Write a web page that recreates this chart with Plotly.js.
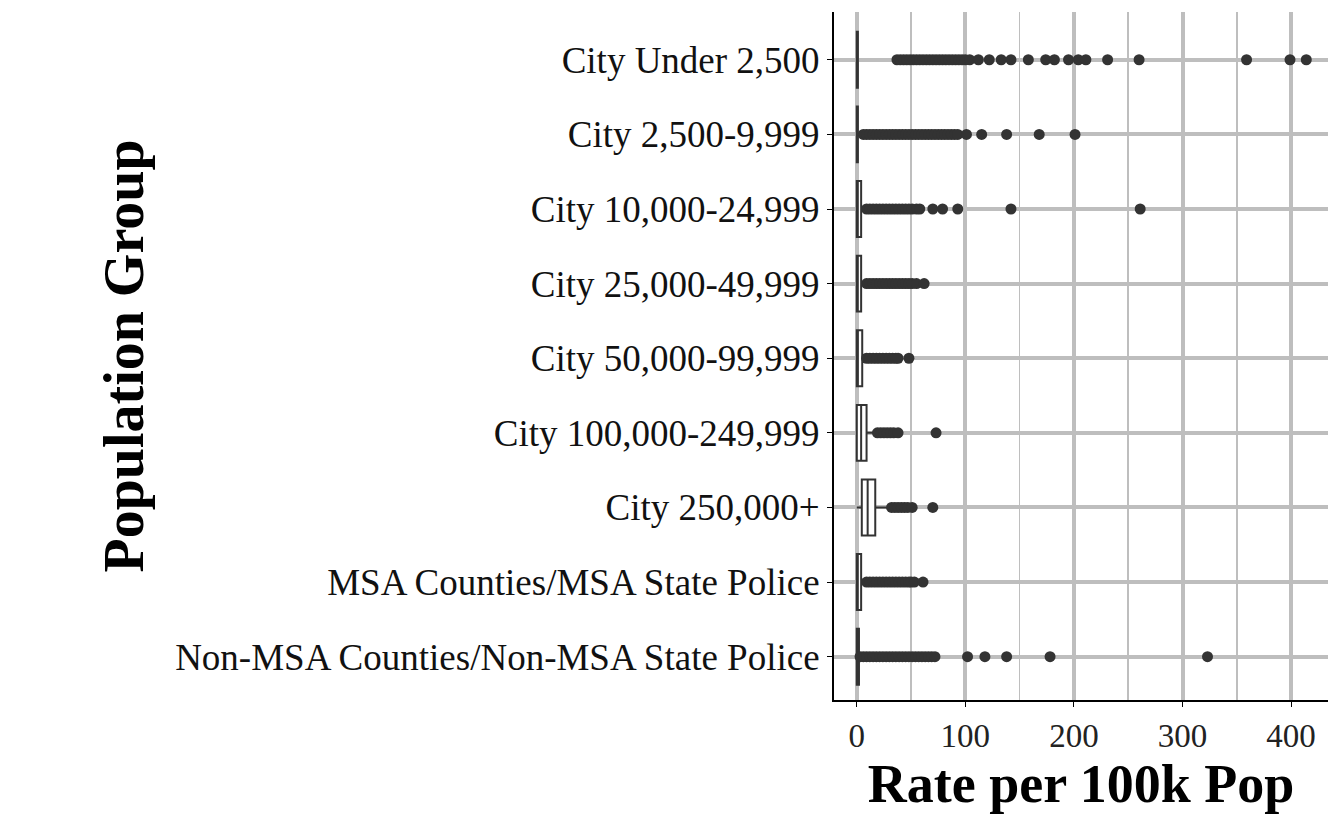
<!DOCTYPE html>
<html><head><meta charset="utf-8">
<script src="https://cdn.plot.ly/plotly-3.0.1.min.js"></script>
<style>body{margin:0}</style></head><body>
<div id="c" style="width:1344px;height:830px"></div>
<script>
const categories = ["City Under 2,500","City 2,500-9,999","City 10,000-24,999","City 25,000-49,999","City 50,000-99,999","City 100,000-249,999","City 250,000+","MSA Counties/MSA State Police","Non-MSA Counties/Non-MSA State Police"];
const q1 = [0,0,0,0,0,0,4.6,0,0];
const median = [0,0,0.5,0.5,1,4,10,0.5,0];
const q3 = [1,1,4,4,5,9,17,4,2];
const lowerFence = [0,0,0,0,0,0,0,0,0];
const upperFence = [1,2,8,8,8,17,29,8,2];
const outliers = [
 [37,40,43,46,49,52,55,58,61,64,67,70,73,76,79,82,85,88,91,94,97,100,104,112,122,133,142,158,174,182,195,204,211,231,260,359,399,414],
 [6,9,12,15,18,21,24,27,30,33,36,39,42,45,48,51,54,57,60,63,66,69,72,75,78,81,84,87,90,93,101,115,138,168,201],
 [9,12,15,18,21,24,27,30,33,36,39,42,45,48,51,55,58,70,79,93,142,261],
 [9,12,15,18,21,24,27,30,33,36,39,42,45,48,51,55,62],
 [9,12,15,18,21,24,27,30,33,36,38,48],
 [19,22,25,28,31,34,38,73],
 [32,35,38,41,44,47,51,70],
 [9,12,15,18,21,24,27,30,33,36,39,42,45,48,50,53,61],
 [3,6,9,12,15,18,21,24,27,30,33,36,39,42,45,48,51,54,57,60,63,66,69,72,102,118,138,178,323]
];
const traces = categories.map((c,i)=>({
  type:'box', orientation:'h', y:[c], q1:[q1[i]], median:[median[i]], q3:[q3[i]],
  lowerfence:[lowerFence[i]], upperfence:[upperFence[i]], width:0.75,
  fillcolor:'white', line:{color:'#333333',width:2}, whiskerwidth:0, boxpoints:false,
  showlegend:false, hoverinfo:'skip'
}));
const ox=[], oy=[];
outliers.forEach((a,i)=>a.forEach(v=>{ox.push(v);oy.push(categories[i]);}));
traces.push({type:'scatter',mode:'markers',x:ox,y:oy,marker:{color:'#333333',size:11},showlegend:false,hoverinfo:'skip'});
const font='Liberation Serif, Times New Roman, serif';
Plotly.newPlot('c',traces,{
  width:1344,height:830,margin:{l:834,r:16,t:12,b:130},
  paper_bgcolor:'white',plot_bgcolor:'white',
  font:{family:font,color:'black'},
  xaxis:{range:[-21,434],dtick:100,tick0:0,showgrid:true,gridcolor:'#bebebe',gridwidth:4,zeroline:false,
    minor:{dtick:50,showgrid:true,gridcolor:'#bebebe',gridwidth:1.5},
    showline:true,linecolor:'black',linewidth:2,ticks:'outside',ticklen:5,tickcolor:'black',
    tickfont:{size:33,family:font,color:'#222'},
    title:{text:'<b>Rate per 100k Pop</b>',font:{size:54,family:font},standoff:6}},
  yaxis:{type:'category',range:[8.58,-0.64],showgrid:true,gridcolor:'#bebebe',gridwidth:4,
    showline:true,linecolor:'black',linewidth:2,ticks:'outside',ticklen:5,tickcolor:'black',
    tickfont:{size:37,family:font,color:'#111'},
    title:{text:'<b>Population Group</b>',font:{size:56,family:font},standoff:14}}
},{staticPlot:true});
</script></body></html>
